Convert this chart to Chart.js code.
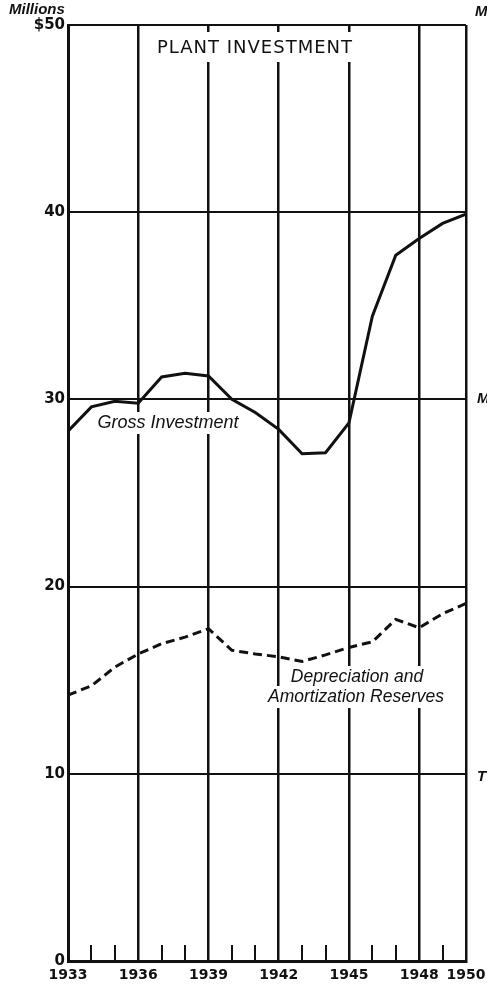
<!DOCTYPE html>
<html>
<head>
<meta charset="utf-8">
<script src="https://cdn.jsdelivr.net/npm/chart.js@4.4.1/dist/chart.umd.min.js"></script>
<style>
  html, body { margin: 0; padding: 0; background: #fff; }
  #wrap { width: 487px; height: 985px; }
</style>
</head>
<body>
<div id="wrap"><canvas id="plantChart" width="487" height="985"></canvas></div>
<script>
// values, millions of dollars
var years = [1933, 1934, 1935, 1936, 1937, 1938, 1939, 1940, 1941, 1942, 1943, 1944, 1945, 1946, 1947, 1948, 1949, 1950];
var grossInvestment = [28.3, 29.6, 29.9, 29.8, 31.2, 31.4, 31.25, 30.0, 29.3, 28.4, 27.1, 27.15, 28.75, 34.45, 37.7, 38.6, 39.4, 39.9];
var depreciation = [14.2, 14.7, 15.7, 16.4, 16.95, 17.3, 17.75, 16.6, 16.4, 16.25, 16.0, 16.35, 16.75, 17.05, 18.25, 17.8, 18.55, 19.1];
var yearLabels = [1933, 1936, 1939, 1942, 1945, 1948, 1950];
var gridYears = [1936, 1939, 1942, 1945, 1948];

var ink = "#111";

function toPoints(vals) {
  return years.map(function (yr, i) { return { x: yr, y: vals[i] }; });
}

// title, curve labels, year ticks inside the frame
var annotations = {
  id: "annotations",
  beforeDatasetsDraw: function (chart) {
    var c = chart.ctx;
    var xs = chart.scales.x;
    var area = chart.chartArea;
    c.save();
    // small year ticks along the bottom
    c.strokeStyle = ink;
    c.lineWidth = 2;
    years.forEach(function (yr) {
      if (gridYears.indexOf(yr) >= 0 || yr === 1933 || yr === 1950) return;
      var px = Math.round(xs.getPixelForValue(yr));
      c.beginPath();
      c.moveTo(px, area.bottom);
      c.lineTo(px, area.bottom - 16);
      c.stroke();
    });

    function label(text, x, y, font) {
      c.font = font;
      var w = c.measureText(text).width;
      c.fillStyle = "#fff";
      c.fillRect(x - w / 2 - 3, y - 11, w + 6, 22);
      c.fillStyle = ink;
      c.textAlign = "center";
      c.textBaseline = "middle";
      c.fillText(text, x, y);
    }
    c.save();
    c.font = "18px 'DejaVu Sans'";
    c.letterSpacing = "1px";
    var tw = c.measureText("PLANT INVESTMENT").width;
    c.fillStyle = "#fff";
    c.fillRect(255 - tw / 2 - 4, area.top + 7, tw + 8, 30);
    c.fillStyle = ink;
    c.textAlign = "center";
    c.textBaseline = "middle";
    c.fillText("PLANT INVESTMENT", 255, area.top + 23);
    c.restore();

    label("Gross Investment", 168, 423, "italic 18px 'Liberation Sans'");
    label("Depreciation and", 357, 677, "italic 17.5px 'Liberation Sans'");
    label("Amortization Reserves", 356, 697, "italic 17.5px 'Liberation Sans'");
    c.restore();
  },
  afterDraw: function (chart) {
    var c = chart.ctx;
    c.save();
    c.fillStyle = ink;
    c.font = "italic bold 15px 'Liberation Sans'";
    c.textAlign = "left";
    c.textBaseline = "middle";
    c.fillText("Millions", 9, 10);
    // cut-off letters from the neighbouring chart
    c.fillText("M", 475, 12);
    c.fillText("M", 477, 399);
    c.fillText("T", 477, 777);
    c.restore();
  }
};

var ctx = document.getElementById("plantChart").getContext("2d");
var chart = new Chart(ctx, {
  type: "line",
  data: {
    datasets: [
      {
        label: "Gross Investment",
        data: toPoints(grossInvestment),
        borderColor: ink,
        borderWidth: 3,
        pointRadius: 0,
        tension: 0
      },
      {
        label: "Depreciation and Amortization Reserves",
        data: toPoints(depreciation),
        borderColor: ink,
        borderWidth: 3,
        borderDash: [9, 5],
        pointRadius: 0,
        tension: 0
      }
    ]
  },
  options: {
    responsive: false,
    animation: false,
    layout: { padding: { top: 25, right: 21, left: 0, bottom: 0 } },
    plugins: { legend: { display: false }, tooltip: { enabled: false } },
    scales: {
      x: {
        type: "linear",
        min: 1933,
        max: 1950,
        afterBuildTicks: function (axis) {
          axis.ticks = years.map(function (v) { return { value: v }; });
        },
        afterFit: function (axis) {
          axis.height = 24;
          axis.paddingLeft = 0;
          axis.paddingRight = 0;
        },
        border: { display: true, color: ink, width: 3 },
        grid: {
          drawTicks: false,
          lineWidth: 2.5,
          color: function (c) {
            var v = c.tick && c.tick.value;
            return (gridYears.indexOf(v) >= 0 || v === 1933 || v === 1950) ? ink : "rgba(0,0,0,0)";
          }
        },
        ticks: {
          autoSkip: false,
          maxRotation: 0,
          padding: 6,
          color: ink,
          font: { family: "'DejaVu Sans'", size: 14, weight: "bold" },
          callback: function (v) { return yearLabels.indexOf(v) >= 0 ? String(v) : ""; }
        }
      },
      y: {
        min: 0,
        max: 50,
        afterFit: function (axis) { axis.width = 68; },
        border: { display: true, color: ink, width: 3 },
        grid: { drawTicks: false, lineWidth: 2, color: ink },
        ticks: {
          stepSize: 10,
          padding: 3,
          color: ink,
          font: { family: "'DejaVu Sans'", size: 15, weight: "bold" },
          callback: function (v) { return v === 50 ? "$50" : String(v); }
        }
      }
    }
  },
  plugins: [annotations]
});
</script>
</body>
</html>
